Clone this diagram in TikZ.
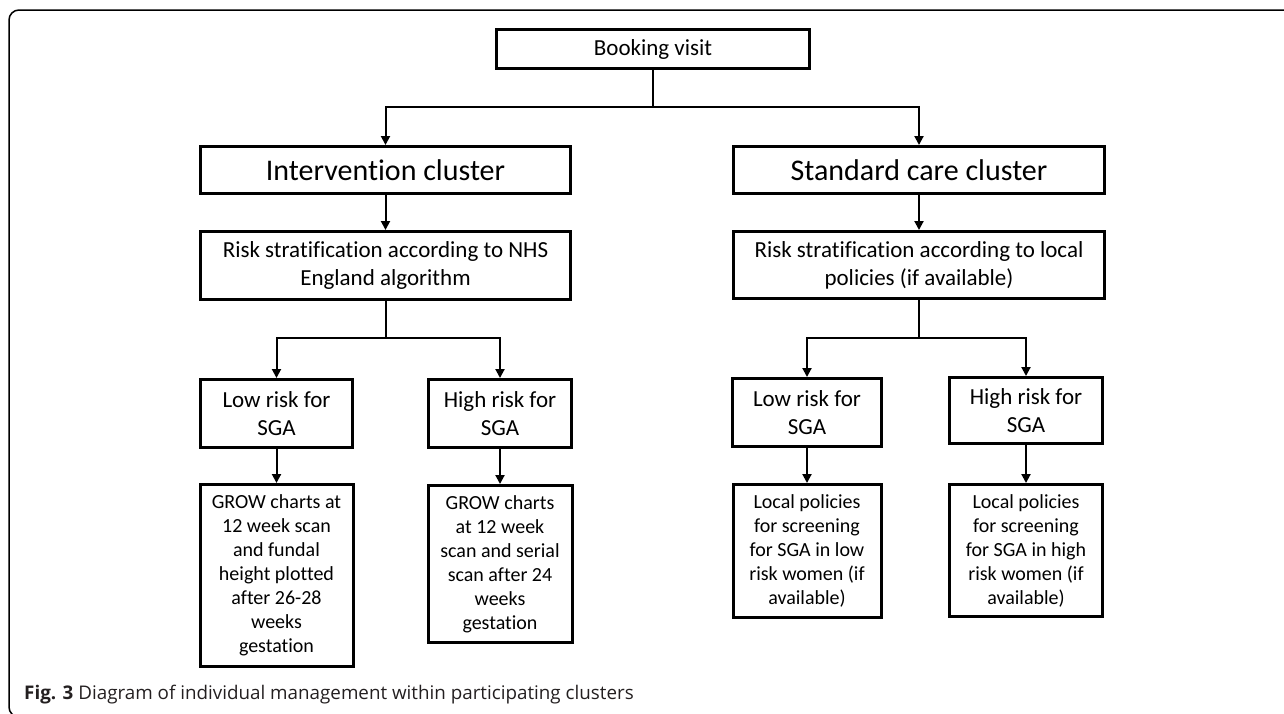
\documentclass[tikz,border=0pt]{standalone}
\usepackage{fontspec}
\setmainfont{Carlito}[Ligatures=NoCommon]
\newfontfamily\captionfont{Open Sans}
\usetikzlibrary{arrows.meta}
\pgfdeclarelayer{edgelayer}
\pgfdeclarelayer{nodelayer}
\pgfsetlayers{edgelayer,nodelayer,main}
\definecolor{inkgrey}{RGB}{35,31,32}
\tikzstyle{box}=[rectangle, draw=black, fill=white, line width=3pt, align=center, inner sep=0pt, font=\fontsize{23}{28}\selectfont]
\tikzstyle{clusterbox}=[box, font=\fontsize{30}{36}\selectfont]
\tikzstyle{smallbox}=[box, font=\fontsize{20}{24}\selectfont]
\tikzstyle{edge}=[draw=black, line width=2pt]
\tikzstyle{arrowedge}=[draw=black, line width=2pt, -{Triangle[width=9pt,length=9pt]}]
\tikzstyle{frame}=[draw=black, line width=1.5pt, rounded corners=10pt]
\tikzstyle{caption}=[anchor=west, inner sep=0pt, text=inkgrey, font=\captionfont\fontsize{18.8}{22}\selectfont]

\begin{document}
\begin{tikzpicture}[x=1pt, y=-1pt]
					\useasboundingbox (0,0) rectangle (1284,713);
					\clip (0,0) rectangle (1284,713);
					\draw [style=frame] (9,10) rectangle (1320,717);
					\begin{pgfonlayer}{nodelayer}
						\node [style=box, minimum width=313, minimum height=39] (1) at (653, 49) {Booking visit};
						\node [style=clusterbox, minimum width=370, minimum height=47] (2) at (385.5, 170) {Intervention cluster};
						\node [style=clusterbox, minimum width=371, minimum height=47] (3) at (919, 170) {Standard care cluster};
						\node [style=box, minimum width=370, minimum height=68] (4) at (385.5, 265.5) {Risk stratification according to NHS\\England algorithm};
						\node [style=box, minimum width=371, minimum height=67] (5) at (919, 265) {Risk stratification according to local\\policies (if available)};
						\node [style=box, minimum width=152, minimum height=68] (6) at (276.5, 413.5) {Low risk for\\SGA};
						\node [style=box, minimum width=143, minimum height=68] (7) at (500, 413.5) {High risk for\\SGA};
						\node [style=box, minimum width=149, minimum height=68] (8) at (807, 412.5) {Low risk for\\SGA};
						\node [style=box, minimum width=153, minimum height=66] (9) at (1026, 410.5) {High risk for\\SGA};
						\node [style=smallbox, minimum width=153, minimum height=182] (10) at (276.5, 575.5) {GROW charts at\\12 week scan\\and fundal\\height plotted\\after 26-28\\weeks\\gestation};
						\node [style=smallbox, minimum width=144, minimum height=157] (11) at (500, 564) {GROW charts\\at 12 week\\scan and serial\\scan after 24\\weeks\\gestation};
						\node [style=smallbox, minimum width=148, minimum height=133] (12) at (807, 551) {Local policies\\for screening\\for SGA in low\\risk women (if\\available)};
						\node [style=smallbox, minimum width=153, minimum height=132] (13) at (1026, 550.5) {Local policies\\for screening\\for SGA in high\\risk women (if\\available)};
						\coordinate (14) at (653, 107);
						\coordinate (15) at (385.5, 338);
						\coordinate (16) at (919, 338);
						\node [style=caption] (17) at (24, 695) {\textbf{Fig. 3} Diagram of individual management within participating clusters};
					\end{pgfonlayer}
					\begin{pgfonlayer}{edgelayer}
						\draw [style=edge] (1) to (14);
						\draw [style=arrowedge] (14) -| (2);
						\draw [style=arrowedge] (14) -| (3);
						\draw [style=arrowedge] (2) to (4);
						\draw [style=arrowedge] (3) to (5);
						\draw [style=edge] (4) to (15);
						\draw [style=arrowedge] (15) -| (6);
						\draw [style=arrowedge] (15) -| (7);
						\draw [style=edge] (5) to (16);
						\draw [style=arrowedge] (16) -| (8);
						\draw [style=arrowedge] (16) -| (9);
						\draw [style=arrowedge] (6) to (10);
						\draw [style=arrowedge] (7) to (11);
						\draw [style=arrowedge] (8) to (12);
						\draw [style=arrowedge] (9) to (13);
					\end{pgfonlayer}
				\end{tikzpicture}
\end{document}
